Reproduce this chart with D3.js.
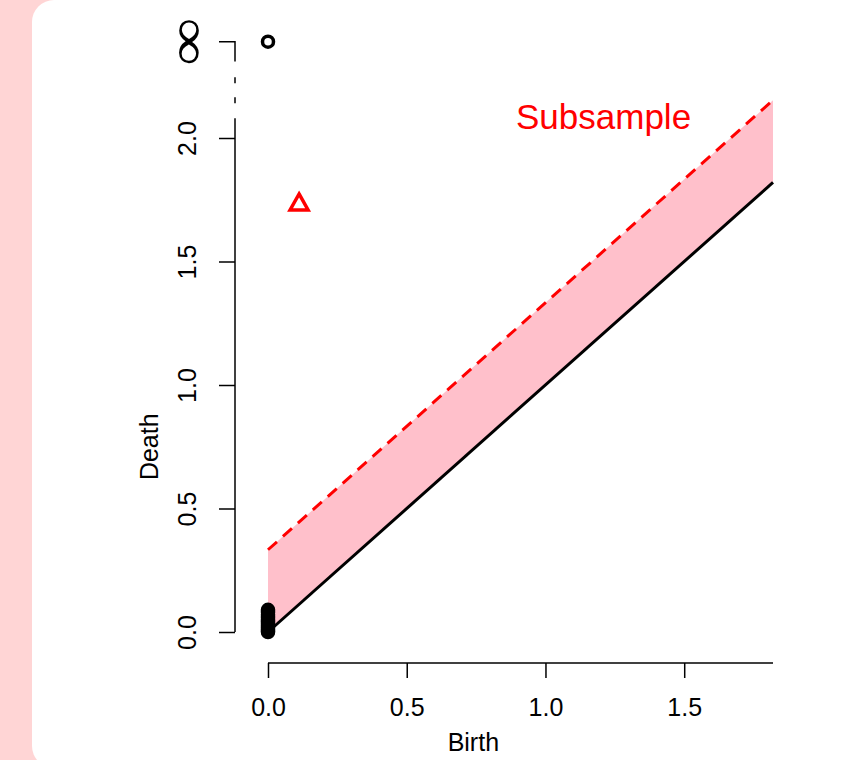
<!DOCTYPE html>
<html>
<head>
<meta charset="utf-8">
<script src="https://cdn.jsdelivr.net/npm/d3@7"></script>
<style>
  body { margin: 0; background: #ffd5d5; }
  svg { display: block; }
  text { font-family: "Liberation Sans", Arial, sans-serif; }
</style>
</head>
<body>
<div id="chart"></div>
<script>
// persistence diagram data
const dim0Birth = [0, 0, 0, 0, 0, 0, 0, 0, 0, 0, 0, 0, 0, 0, 0, 0, 0];
const dim0Death = [0.09, 0.085, 0.08, 0.072, 0.065, 0.058, 0.05, 0.045, 0.04, 0.034, 0.028, 0.022, 0.017, 0.012, 0.008, 0.004, 0];
const infBirth = [0];          // point that never dies
const dim1Birth = [0.112];
const dim1Death = [1.737];
const bandWidth = 0.333;       // confidence band from subsample
const xTicks = [0, 0.5, 1, 1.5];
const yTicks = [0, 0.5, 1, 1.5, 2];
const infValue = 2.39;         // where the infinity row is drawn

var width = 861, height = 760;

var svg = d3.select("#chart")
  .append("svg")
    .attr("width", width)
    .attr("height", height);

// white panel with rounded corners
svg.append("rect")
  .attr("x", 32).attr("y", 0)
  .attr("width", 900).attr("height", 768)
  .attr("rx", 22).attr("ry", 22)
  .attr("fill", "white");

const x = d3.scaleLinear().domain([0, 1.82]).range([268, 773]);
const y = d3.scaleLinear().domain([0, 2]).range([632, 138]);

// pink band above the diagonal
const band = d3.area()
  .x(d => x(d))
  .y0(d => y(d))
  .y1(d => y(d + bandWidth));
svg.append("path")
  .datum(x.domain())
  .attr("d", band)
  .attr("fill", "pink");

const line = d3.line().x(d => x(d[0])).y(d => y(d[1]));

// diagonal
svg.append("path")
  .datum(x.domain().map(d => [d, d]))
  .attr("d", line)
  .attr("stroke", "black")
  .attr("stroke-width", 3)
  .attr("fill", "none");

// upper edge of band
svg.append("path")
  .datum(x.domain().map(d => [d, d + bandWidth]))
  .attr("d", line)
  .attr("stroke", "red")
  .attr("stroke-width", 3)
  .attr("stroke-dasharray", "12,8")
  .attr("fill", "none");

// x axis
const xAxis = d3.axisBottom(x)
  .tickValues(xTicks)
  .tickFormat(d3.format(".1f"))
  .tickSize(15)
  .tickSizeOuter(0)
  .tickPadding(20);
const gx = svg.append("g")
  .attr("transform", "translate(0,663)")
  .call(xAxis);
gx.select(".domain").attr("d", `M${x(0)},0H${x(1.82)}`);
gx.selectAll("path, line").attr("stroke-width", 1.5);
gx.selectAll("text").style("font-size", "25px").attr("fill", "black")
  .style("font-family", "'Liberation Sans', Arial, sans-serif");

// y axis, drawn with a break before infinity
const yAxis = d3.axisLeft(y)
  .tickValues(yTicks)
  .tickFormat(d3.format(".1f"))
  .tickSize(16)
  .tickSizeOuter(0);
const gy = svg.append("g")
  .attr("transform", "translate(235,0)")
  .call(yAxis);
gy.select(".domain").attr("d", `M0,${y(0)}V${y(2.08)}`);
gy.selectAll("line, path").attr("stroke-width", 1.5);
gy.selectAll(".tick text")
  .attr("x", 0).attr("dy", null)
  .attr("text-anchor", "middle")
  .attr("transform", "translate(-48,0) rotate(-90)")
  .attr("y", 9)
  .style("font-size", "25px").attr("fill", "black")
  .style("font-family", "'Liberation Sans', Arial, sans-serif");

// axis break and infinity tick
gy.append("line")
  .attr("y1", y(2.08)).attr("y2", y(2.31))
  .attr("stroke", "black").attr("stroke-width", 1.5)
  .attr("stroke-dasharray", "0,15,6,14,6,15");
gy.append("path")
  .attr("d", `M-16,${y(infValue)}H0V${y(2.31)}`)
  .attr("stroke", "black").attr("stroke-width", 1.5).attr("fill", "none");
gy.append("text")
  .attr("transform", `translate(-48,${y(infValue)}) rotate(-90) scale(1.3,1)`)
  .attr("text-anchor", "middle")
  .attr("y", 17)
  .attr("fill", "black")
  .style("font-family", "'Liberation Serif', serif")
  .style("font-size", "52px")
  .text("∞");

// axis titles
svg.append("text")
  .attr("x", x(0.74)).attr("y", 751)
  .attr("text-anchor", "middle")
  .style("font-size", "25px")
  .text("Birth");
svg.append("text")
  .attr("transform", `translate(158,${y(0.75)}) rotate(-90)`)
  .attr("text-anchor", "middle")
  .style("font-size", "25px")
  .text("Death");

// dimension 0 points
svg.selectAll(".dim0")
  .data(dim0Birth.map((b, i) => [b, dim0Death[i]]))
  .join("circle")
    .attr("cx", d => x(d[0]))
    .attr("cy", d => y(d[1]))
    .attr("r", 5.5)
    .attr("fill", "none")
    .attr("stroke", "black")
    .attr("stroke-width", 3.5);

svg.selectAll(".inf")
  .data(infBirth)
  .join("circle")
    .attr("cx", d => x(d))
    .attr("cy", y(infValue))
    .attr("r", 5.5)
    .attr("fill", "none")
    .attr("stroke", "black")
    .attr("stroke-width", 3.5);

// dimension 1 points (triangles)
svg.selectAll(".dim1")
  .data(dim1Birth.map((b, i) => [b, dim1Death[i]]))
  .join("path")
    .attr("d", "M0,-9L9,7H-9Z")
    .attr("transform", d => `translate(${x(d[0])},${y(d[1])})`)
    .attr("fill", "none")
    .attr("stroke", "red")
    .attr("stroke-width", 3.5)
    .attr("stroke-linejoin", "miter");

svg.append("text")
  .attr("x", 516).attr("y", 129)
  .attr("fill", "red")
  .style("font-size", "35px")
  .text("Subsample");
</script>
</body>
</html>
